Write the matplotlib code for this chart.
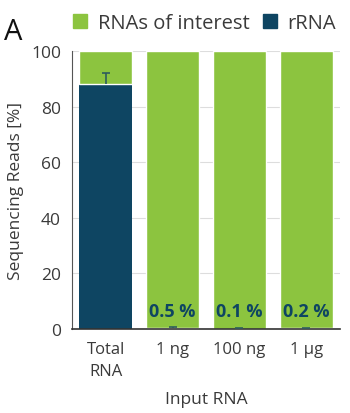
import matplotlib
matplotlib.use("Agg")
import matplotlib.pyplot as plt
import numpy as np
from matplotlib.patches import Patch

plt.rcParams['font.family'] = ['Open Sans', 'DejaVu Sans']

categories = ["Total\nRNA", "1 ng", "100 ng", "1 µg"]
rrna = [88.0, 0.5, 0.1, 0.2]
rrna_err = [4.0, 0.3, 0.1, 0.2]
interest = [100 - v for v in rrna]
pct_labels = ["", "0.5 %", "0.1 %", "0.2 %"]

green = "#8cc43f"
navy = "#0e4562"
text_c = "#3a3a3a"

fig = plt.figure(figsize=(3.5, 4.14), dpi=100)
ax = fig.add_axes([0.206, 0.203, 0.765, 0.671])

x = np.arange(len(categories))
w = 0.79
ax.bar(x, rrna, width=w, color=navy, zorder=2)
ax.bar(x, interest, bottom=rrna, width=w, color=green, edgecolor="white", linewidth=1.0, zorder=2)
eb = ax.errorbar(x, rrna, yerr=[np.zeros(len(rrna)), rrna_err], fmt="none",
                 ecolor="#2e5d5c", elinewidth=1.2, capsize=3, capthick=1.2, zorder=3)
caps = eb[1]
if len(caps) >= 2:
    caps[0].set_visible(False)

for xi, lab in zip(x, pct_labels):
    if lab:
        ax.text(xi, 6.5, lab, ha="center", va="center", fontsize=13, fontweight="bold", color=navy, zorder=4)

ax.set_xlim(-0.5, 3.5)
ax.set_ylim(0, 100)
ax.set_yticks([0, 20, 40, 60, 80, 100])
ax.set_xticks(x)
ax.set_xticklabels(categories, fontsize=12, color=text_c, linespacing=1.45)
ax.tick_params(axis="y", labelsize=12.5, labelcolor=text_c, length=0, pad=8)
ax.tick_params(axis="x", length=0, pad=9)
ax.yaxis.grid(True, color="#dddddd", linewidth=0.8, zorder=0)
ax.set_axisbelow(True)
for s in ["top", "right"]:
    ax.spines[s].set_visible(False)
ax.spines["left"].set_color("#555555")
ax.spines["bottom"].set_color("#333333")
ax.spines["bottom"].set_linewidth(1.2)
ax.set_ylabel("Sequencing Reads [%]", fontsize=12.5, color=text_c, labelpad=5)
ax.set_xlabel("Input RNA", fontsize=12.5, color=text_c, labelpad=9)

handles = [Patch(color=green, label="RNAs of interest"), Patch(color=navy, label="rRNA")]
fig.legend(handles=handles, loc="center", bbox_to_anchor=(0.585, 0.942), ncol=2, frameon=False,
           fontsize=14.5, handlelength=0.7, handleheight=0.7, handletextpad=0.5, columnspacing=0.7,
           labelcolor=text_c, borderpad=0, borderaxespad=0)
fig.text(0.012, 0.922, "A", fontsize=21, color="#111111", va="center", ha="left")

fig.savefig("out.png", dpi=100)
